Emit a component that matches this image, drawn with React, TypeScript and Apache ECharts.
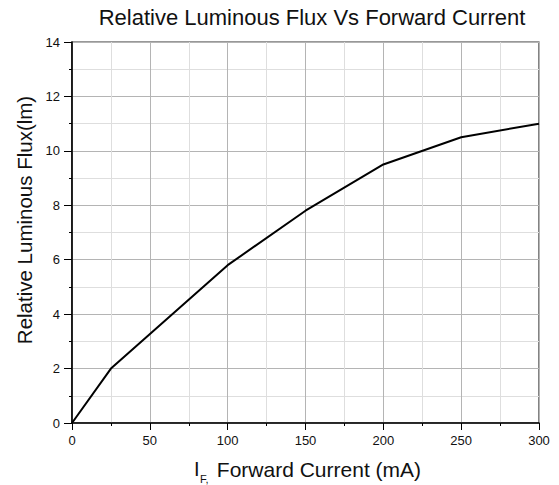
import React, { useEffect, useRef } from "react";
import * as echarts from "echarts";

const currentMA = [0, 25, 100, 150, 200, 250, 300];
const relativeFlux = [0, 2, 5.8, 7.8, 9.5, 10.5, 11.0];
const titleText = "Relative Luminous Flux Vs Forward Current";
const yAxisTitle = "Relative Luminous Flux(lm)";
const xAxisTitleMain = "I";
const xAxisTitleSub = "F,";
const xAxisTitleRest = " Forward Current (mA)";

export default function App() {
  const ref = useRef<HTMLDivElement>(null);
  useEffect(() => {
    if (!ref.current) return;
    const chart = echarts.init(ref.current, null, { renderer: "svg" });
    const font = "'Liberation Sans', Arial, sans-serif";
    chart.setOption({
      animation: false,
      backgroundColor: "#ffffff",
      title: {
        text: titleText,
        left: 307,
        textAlign: "center",
        top: 1,
        textStyle: { fontFamily: font, fontSize: 22, fontWeight: "normal", color: "#111" },
      },
      grid: {
        left: 72,
        right: 20,
        top: 42,
        bottom: 62,
        show: true,
        borderColor: "#333",
        borderWidth: 1.2,
        backgroundColor: "transparent",
      },
      xAxis: {
        type: "value",
        min: 0,
        max: 300,
        interval: 50,
        axisLine: { show: true, onZero: false, lineStyle: { color: "#000", width: 1.6 } },
        axisTick: { show: true, inside: false, length: 7, lineStyle: { color: "#000" } },
        minorTick: { show: true, splitNumber: 2, length: 3, lineStyle: { color: "#000" } },
        splitLine: { show: true, lineStyle: { color: "#b4b4b4", width: 1 } },
        minorSplitLine: { show: true, lineStyle: { color: "#dedede", width: 1 } },
        axisLabel: { fontFamily: font, fontSize: 13, color: "#111", margin: 11 },
      },
      yAxis: {
        type: "value",
        min: 0,
        max: 14,
        interval: 2,
        axisLine: { show: true, onZero: false, lineStyle: { color: "#000", width: 1.6 } },
        axisTick: { show: true, inside: false, length: 8, lineStyle: { color: "#000" } },
        minorTick: { show: true, splitNumber: 2, length: 3, lineStyle: { color: "#000" } },
        splitLine: { show: true, lineStyle: { color: "#b4b4b4", width: 1 } },
        minorSplitLine: { show: true, lineStyle: { color: "#dedede", width: 1 } },
        axisLabel: { fontFamily: font, fontSize: 13, color: "#111", margin: 12 },
      },
      graphic: [
        {
          type: "text",
          x: 24,
          y: 220,
          rotation: Math.PI / 2,
          style: {
            text: yAxisTitle,
            fontFamily: font,
            fontSize: 20.5,
            fill: "#111",
            align: "center",
            verticalAlign: "middle",
          },
        },
        {
          type: "text",
          left: 194,
          top: 459,
          style: { text: xAxisTitleMain, fontFamily: font, fontSize: 20, fill: "#111" },
        },
        {
          type: "text",
          left: 200,
          top: 473,
          style: { text: xAxisTitleSub, fontFamily: font, fontSize: 11, fill: "#111" },
        },
        {
          type: "text",
          left: 211,
          top: 459,
          style: { text: xAxisTitleRest, fontFamily: font, fontSize: 21, fill: "#111" },
        },
      ],
      series: [
        {
          type: "line",
          data: currentMA.map((x, i) => [x, relativeFlux[i]]),
          showSymbol: false,
          symbol: "none",
          lineStyle: { color: "#000", width: 2 },
        },
      ],
    });
    return () => chart.dispose();
  }, []);
  return <div ref={ref} style={{ width: 559, height: 485, position: "absolute", left: 0, top: 0 }} />;
}
